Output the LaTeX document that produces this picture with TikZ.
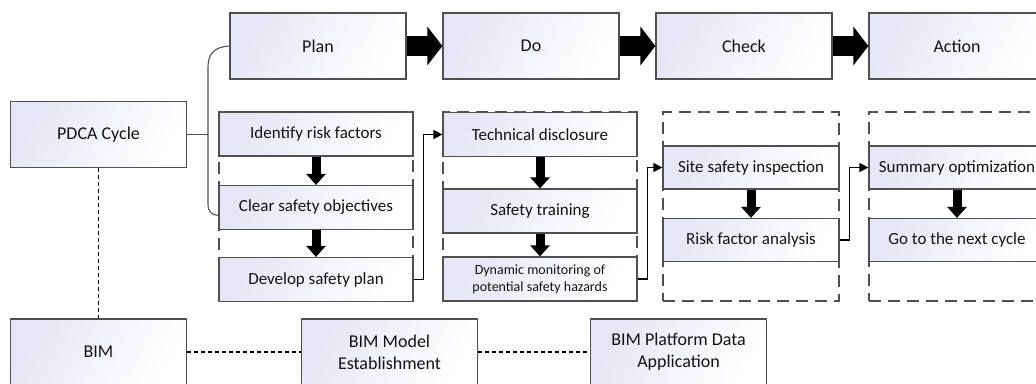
\documentclass[tikz,border=0pt]{standalone}
\usepackage{fontspec}
\setmainfont{Carlito}
\usetikzlibrary{arrows.meta}
\definecolor{boxfill}{RGB}{230,230,245}
\definecolor{boxline}{RGB}{80,80,80}
\definecolor{txt}{RGB}{20,20,20}

\begin{document}
\begin{tikzpicture}[x=1pt, y=-1pt]
    \tikzstyle{every node} = [rectangle, inner sep=0pt, align=center, text=txt]
    \tikzstyle{box} = [draw=boxline, line width=1.2pt, left color=boxfill, right color=white, shading angle=60]
    \tikzstyle{stage} = [box, minimum width=176pt, minimum height=66pt, font=\fontsize{18}{22}\selectfont]
    \tikzstyle{task} = [box, minimum width=194pt, minimum height=44pt, font=\fontsize{17}{20}\selectfont]
    \tikzstyle{subtask} = [box, minimum width=176pt, minimum height=43pt, font=\fontsize{17}{20}\selectfont]
    \tikzstyle{group} = [draw=boxline, line width=1.2pt, dash pattern=on 12pt off 7pt]
    \tikzstyle{bigarrow} = [line width=20pt, -{Triangle[length=15pt, width=38pt]}]
    \tikzstyle{downarrow} = [line width=9pt, -{Triangle[length=11pt, width=19pt]}]
    \tikzstyle{link} = [line width=1.3pt, -{Triangle[length=9pt, width=9pt]}]
    \tikzstyle{assoc} = [line width=1.2pt, dash pattern=on 4pt off 3pt]

    \useasboundingbox (0, 0) rectangle (1036, 383);
    \clip (0, 0) rectangle (1036, 383);

    % PDCA stages
    \foreach \name/\txt [count=\i] in {plan/Plan, do/Do, check/Check, action/Action}
      \node [stage] (\name) at (105+213*\i, 46) {\txt};
    \foreach \a/\b in {plan/do, do/check, check/action}
      \draw [bigarrow] (\a) -- (\b);

    \node [stage] (pdca) at (98.5, 134.5) {PDCA Cycle};

    % dashed groups
    \node [group, minimum width=194pt, minimum height=189pt] (plangrp) at (316, 206.5) {};
    \node [group, minimum width=194pt, minimum height=189pt] (dogrp) at (540, 206.5) {};
    \node [group, minimum width=176pt, minimum height=189pt] (checkgrp) at (751, 206.5) {};
    \node [group, minimum width=176pt, minimum height=189pt] (actiongrp) at (957, 206.5) {};

    % plan
    \node [task] (identify) at (316, 134) {Identify risk factors};
    \node [task] (objective) at (316, 207.5) {Clear safety objectives};
    \node [task] (safeplan) at (316, 279.5) {Develop safety plan};
    % do
    \node [task] (disclose) at (540, 134.5) {Technical disclosure};
    \node [task] (training) at (540, 211) {Safety training};
    \node [task, font=\fontsize{14}{17}\selectfont] (monitor) at (540, 279) {Dynamic monitoring of\\potential safety hazards};
    % check
    \node [subtask] (inspect) at (751, 167.5) {Site safety inspection};
    \node [subtask] (analysis) at (751, 240) {Risk factor analysis};
    % action
    \node [subtask] (summary) at (957, 167.5) {Summary optimization};
    \node [subtask] (nextcycle) at (957, 240) {Go to the next cycle};

    \foreach \a/\b in {identify/objective, objective/safeplan, disclose/training, training/monitor, inspect/analysis, summary/nextcycle}
      \draw [downarrow] (\a) -- (\b);

    \draw [link] (safeplan.east) -- ++(10, 0) |- (disclose.west);
    \draw [link] (monitor.east) -- ++(10, 0) |- (inspect.west);
    \draw [link] (analysis.east) -- ++(10, 0) |- (summary.west);

    % brace from PDCA Cycle
    \coordinate (brace) at (208, 134.5);
    \draw [line width=1.1pt, boxline] (plan.west) .. controls (212, 47) and (208, 56) .. (208, 68)
      -- (208, 204) .. controls (208, 212) and (212, 215) .. ([yshift=-8pt]objective.west);
    \draw [line width=1.1pt, boxline] (pdca.east) -- (brace);

    % BIM
    \node [stage] (bim) at (98.5, 352) {BIM};
    \node [stage] (model) at (389.5, 352) {BIM Model\\Establishment};
    \node [stage] (platform) at (678.5, 352) {BIM Platform Data\\Application};
    \draw [assoc] (pdca) -- (bim);
    \draw [assoc] (bim) -- (model);
    \draw [assoc] (model) -- (platform);
\end{tikzpicture}
\end{document}
